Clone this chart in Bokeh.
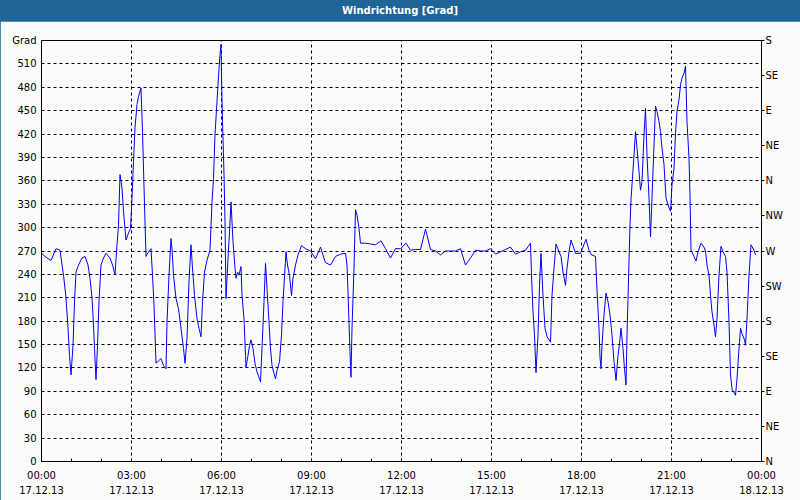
from bokeh.plotting import figure
from bokeh.models import (ColumnDataSource, LinearAxis, FixedTicker, Div, Column,
                          GlobalInlineStyleSheet)
from bokeh.embed import file_html
from bokeh.resources import INLINE

# ---- data (minutes after 17.12.13 00:00, wind direction in degrees) ----
minutes = [0, 11, 19, 29, 37, 44, 49, 53, 56, 59, 63, 66, 69, 74, 81, 87, 93, 97, 101, 104,
           106, 109, 112, 115, 119, 124, 129, 137, 142, 147, 151, 154, 157, 161, 164, 169, 174,
           178, 181, 184, 187, 191, 194, 199, 202, 206, 209, 214, 219, 222, 225, 229, 234, 239,
           244, 249, 251, 255, 259, 261, 264, 269, 274, 279, 284, 287, 291, 295, 299, 302, 306,
           311, 315, 319, 322, 326, 331, 337, 341, 344, 347, 351, 354, 357, 359, 360, 362, 365,
           367, 369, 372, 376, 379, 383, 387, 389, 392, 395, 399, 401, 405, 408, 409, 413, 416,
           419, 423, 427, 431, 435, 438, 441, 445, 448, 451, 455, 458, 461, 465, 468, 471, 476,
           480, 483, 487, 489, 492, 496, 500, 503, 508, 513, 520, 528, 538, 548, 558, 568, 578,
           588, 598, 608, 611, 613, 616, 618, 619, 621, 625, 627, 628, 631, 635, 638, 648, 658,
           668, 679, 688, 698, 708, 718, 729, 738, 748, 758, 768, 778, 788, 798, 808, 818, 828,
           838, 848, 858, 868, 878, 888, 898, 908, 918, 928, 938, 948, 958, 968, 978, 980, 983,
           986, 989, 993, 996, 999, 1003, 1007, 1011, 1018, 1021, 1025, 1029, 1035, 1039, 1043,
           1048, 1051, 1055, 1059, 1065, 1068, 1078, 1081, 1089, 1095, 1100, 1108, 1111, 1115,
           1117, 1119, 1121, 1125, 1129, 1133, 1137, 1141, 1145, 1149, 1153, 1156, 1159, 1163,
           1166, 1169, 1171, 1173, 1175, 1177, 1179, 1181, 1185, 1188, 1191, 1195, 1198, 1201,
           1205, 1208, 1211, 1215, 1218, 1221, 1225, 1228, 1231, 1235, 1238, 1241, 1245, 1247,
           1249, 1253, 1258, 1261, 1265, 1268, 1271, 1275, 1278, 1281, 1285, 1288, 1291, 1295,
           1297, 1299, 1305, 1309, 1313, 1319, 1325, 1328, 1331, 1335, 1338, 1341, 1345, 1348,
           1351, 1355, 1359, 1363, 1368, 1371, 1375, 1378, 1381, 1388, 1391, 1395, 1398, 1401,
           1406, 1408, 1411, 1415, 1419, 1425, 1428]
direction = [267, 261, 258, 273, 271, 239, 210, 171, 136, 111, 149, 205, 243, 252, 261, 263, 252,
             235, 210, 175, 145, 105, 149, 205, 252, 261, 267, 261, 252, 240, 278, 303, 368, 351,
             321, 284, 293, 299, 338, 385, 428, 458, 468, 479, 423, 329, 263, 269, 273, 239, 201,
             126, 129, 132, 123, 119, 179, 239, 286, 273, 239, 209, 196, 171, 145, 126, 158, 231,
             278, 248, 213, 183, 171, 160, 205, 243, 258, 271, 333, 363, 419, 462, 494, 522, 535,
             496, 436, 368, 308, 209, 248, 295, 333, 282, 248, 235, 243, 239, 250, 213, 183, 136,
             121, 136, 149, 156, 145, 126, 115, 108, 102, 145, 205, 254, 222, 179, 145, 123, 113,
             106, 117, 128, 162, 205, 248, 269, 252, 239, 213, 235, 252, 265, 277, 273, 270, 260,
             275, 255, 252, 263, 266, 267, 252, 218, 158, 123, 108, 171, 248, 299, 323, 316, 299,
             280, 280, 279, 278, 283, 273, 261, 273, 273, 280, 271, 272, 272, 298, 272, 270, 265,
             270, 270, 270, 273, 252, 261, 271, 270, 270, 273, 266, 269, 272, 275, 266, 269, 271,
             280, 239, 192, 162, 114, 162, 226, 267, 213, 171, 160, 153, 213, 248, 279, 269, 263,
             243, 226, 248, 269, 284, 273, 267, 267, 272, 285, 271, 265, 263, 220, 171, 134, 119,
             149, 188, 216, 205, 188, 162, 128, 104, 136, 151, 171, 145, 119, 98, 162, 209, 256,
             303, 336, 355, 393, 423, 402, 372, 348, 359, 419, 453, 393, 338, 288, 338, 406, 456,
             449, 436, 423, 402, 381, 359, 338, 329, 321, 355, 376, 421, 449, 464, 483, 492, 498,
             507, 436, 389, 342, 271, 263, 257, 269, 280, 275, 270, 252, 239, 213, 192, 175, 160,
             183, 239, 276, 269, 263, 243, 179, 111, 93, 85, 106, 145, 171, 164, 156, 149, 183,
             239, 278, 271, 265]

x_ticks = [0, 180, 360, 540, 720, 900, 1080, 1260, 1440]
x_tick_labels = ["00:00\n17.12.13", "03:00\n17.12.13", "06:00\n17.12.13", "09:00\n17.12.13",
                 "12:00\n17.12.13", "15:00\n17.12.13", "18:00\n17.12.13", "21:00\n17.12.13",
                 "00:00\n18.12.13"]
x_minor_ticks = [60, 120, 240, 300, 420, 480, 600, 660, 780, 840, 960, 1020, 1140, 1200, 1320, 1380]
y_ticks = [0, 30, 60, 90, 120, 150, 180, 210, 240, 270, 300, 330, 360, 390, 420, 450, 480, 510]
y_unit_tick = 540
y_unit_label = "Grad"
compass_ticks = [0, 45, 90, 135, 180, 225, 270, 315, 360, 405, 450, 495, 540]
compass_labels = ["N", "NE", "E", "SE", "S", "SW", "W", "NW", "N", "NE", "E", "SE", "S"]
chart_title = "Windrichtung [Grad]"

BLUE_FRAME = "#1E6496"
BG = "#FBFCFA"
FONT = "DejaVu Sans"

source = ColumnDataSource(data=dict(t=minutes, d=direction))

p = figure(width=800, height=479, output_backend="svg", toolbar_location=None,
           x_range=(0, 1440), y_range=(0, 540), x_axis_location=None, y_axis_location=None,
           min_border_left=41, min_border_right=39, min_border_top=19, min_border_bottom=39)
p.background_fill_color = BG
p.border_fill_color = BG
p.outline_line_color = "black"
p.outline_line_width = 1

p.line("t", "d", source=source, line_color="#0000FF", line_width=1)

# bottom axis
xaxis = LinearAxis(ticker=FixedTicker(ticks=x_ticks, minor_ticks=x_minor_ticks))
xaxis.major_label_overrides = {t: l for t, l in zip(x_ticks, x_tick_labels)}
xaxis.major_tick_in = 3
xaxis.major_tick_out = 0
xaxis.minor_tick_in = 3
xaxis.minor_tick_out = 0
xaxis.major_label_standoff = 8
xaxis.major_label_text_font = FONT
xaxis.major_label_text_font_size = "10px"
xaxis.major_label_text_color = "black"
xaxis.major_label_text_line_height = 1.4
xaxis.axis_line_color = "black"
p.add_layout(xaxis, "below")

# left axis (the top tick carries the unit)
yaxis = LinearAxis(ticker=FixedTicker(ticks=y_ticks + [y_unit_tick]))
yaxis.major_label_overrides = {y_unit_tick: y_unit_label}
yaxis.major_tick_in = 0
yaxis.major_tick_out = 0
yaxis.minor_tick_line_color = None
yaxis.major_label_standoff = 5
yaxis.major_label_text_font = FONT
yaxis.major_label_text_font_size = "10px"
yaxis.major_label_text_color = "black"
yaxis.axis_line_color = "black"
p.add_layout(yaxis, "left")

# right axis (compass)
raxis = LinearAxis(ticker=FixedTicker(ticks=compass_ticks))
raxis.major_label_overrides = {t: l for t, l in zip(compass_ticks, compass_labels)}
raxis.major_tick_in = 0
raxis.major_tick_out = 3
raxis.minor_tick_line_color = None
raxis.major_label_standoff = 1
raxis.major_label_text_font = FONT
raxis.major_label_text_font_size = "10px"
raxis.major_label_text_color = "black"
raxis.axis_line_color = "black"
p.add_layout(raxis, "right")

# grids
p.xgrid.ticker = FixedTicker(ticks=x_ticks[1:-1])
p.ygrid.ticker = FixedTicker(ticks=y_ticks[1:])
for g in (p.xgrid, p.ygrid):
    g.grid_line_color = "black"
    g.grid_line_dash = "3 3"
    g.grid_line_width = 1

p.styles = {"outline": f"1px solid {BLUE_FRAME}", "outline-offset": "-1px"}
p.stylesheets = [GlobalInlineStyleSheet(
    css="html, body { margin: 0 !important; padding: 0 !important; overflow: hidden; }")]

title_bar = Div(
    text=(f'<div style="width:800px;height:21px;line-height:21px;text-align:center;'
          f'background:{BLUE_FRAME};color:white;font-weight:bold;'
          f'font-family:\'{FONT}\';font-size:10px;">{chart_title}</div>'),
    width=800, height=21, margin=0)
title_bar.styles = {"background-color": BLUE_FRAME}

layout = Column(children=[title_bar, p], spacing=0, margin=0)

open("out.html", "w").write(file_html(layout, INLINE))
